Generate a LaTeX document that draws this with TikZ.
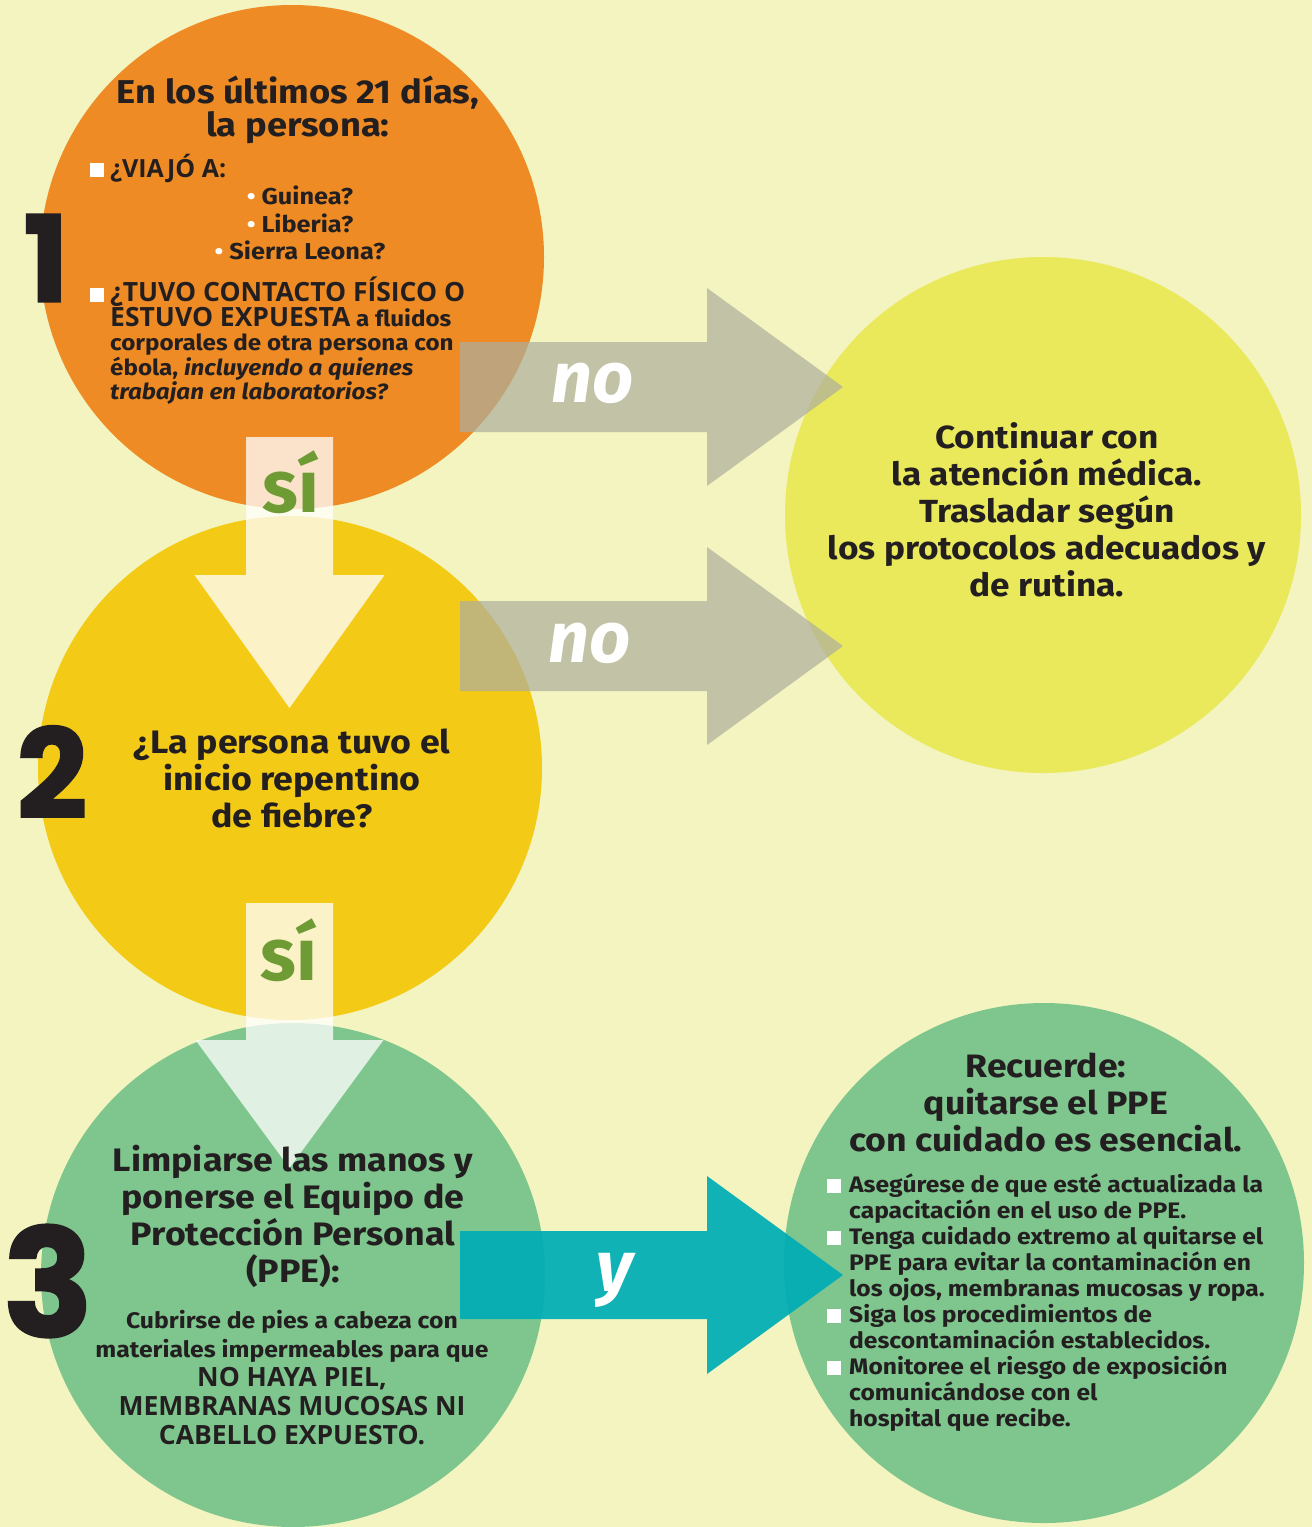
\documentclass[tikz,border=0pt]{standalone}
\usepackage{fontspec}
\setmainfont{Fira Sans}[FakeStretch=1.1]
\newfontfamily\rotfont{Fira Sans}
\newfontfamily\caps{Open Sans}
\newfontfamily\numfont{Poppins}[BoldFeatures={FakeBold=1.5}]
\usetikzlibrary{arrows.meta,calc}
\definecolor{fondo}{HTML}{F3F4BF}
\definecolor{naranja}{HTML}{EE8B24}
\definecolor{amarillo}{HTML}{F3CB16}
\definecolor{limon}{HTML}{E9E95B}
\definecolor{verde}{HTML}{7FC68E}
\definecolor{turquesa}{HTML}{00ADB5}
\definecolor{gris}{HTML}{AEAF9D}
\definecolor{oscuro}{HTML}{231F20}
\definecolor{verdesi}{HTML}{6E9B34}
\def\circuno{(292,257) circle (252)}
\def\circdos{(290,768) circle (252)}
\def\circtres{(293,1275) circle (252)}
\def\circno{(1043,515) circle (258)}
\def\circrec{(1044,1263) circle (260)}
\def\cuad{\textcolor{white}{\rule{14pt}{14pt}}}
\def\punto{\textcolor{white}{•}}

\begin{document}
\begin{tikzpicture}[x=1pt,y=-1pt,
  txt/.style={text=oscuro,inner sep=0pt},
  flechagris/.style={draw=gris,line width=90pt,-{Triangle[length=136pt,width=198pt,line width=0pt]}},
  flechacrema/.style={draw=white,line width=87pt,-{Triangle[length=133pt,width=190pt,line width=0pt]}},
  flechay/.style={draw=turquesa,line width=88pt,-{Triangle[length=136pt,width=198pt,line width=0pt]}},
  rotulo/.style={text=white,inner sep=0pt,font=\rotfont\bfseries\itshape\fontsize{72}{72}\selectfont}]
\useasboundingbox (0,0) rectangle (1312,1527);
\fill[fondo] (0,0) rectangle (1312,1527);
     \fill[naranja] \circuno;
     \fill[amarillo] \circdos;
     \fill[verde] \circtres;
     \fill[limon] \circno;
     \fill[verde] \circrec;
\foreach \n/\x/\y/\tam in {1/46/258/120,2/52/772/124,3/48/1281/150}
  \node[txt,font=\numfont\bfseries\fontsize{\tam}{\tam}\selectfont] (num\n) at (\x,\y) {\n};
\coordinate (a1) at (460,387); \coordinate (b1) at (843,387);
\coordinate (a2) at (460,646); \coordinate (b2) at (843,646);
\coordinate (a3) at (289.5,437); \coordinate (b3) at (289.5,708);
\coordinate (a4) at (289.5,903); \coordinate (b4) at (289.5,1168);
\coordinate (a5) at (460,1275); \coordinate (b5) at (843,1275);
\begin{scope}[transparency group,opacity=.72] \draw[flechagris] (a1) -- (b1); \end{scope}
\begin{scope}[transparency group,opacity=.72] \draw[flechagris] (a2) -- (b2); \end{scope}
\begin{scope}[transparency group,opacity=.76] \draw[flechacrema] (a3) -- (b3); \end{scope}
\begin{scope}[transparency group,opacity=.76] \draw[flechacrema,-{Triangle[length=128pt,width=188pt,line width=0pt]}] (a4) -- (b4); \end{scope}
\begin{scope}[transparency group,opacity=.93] \draw[flechay] (a5) -- (b5); \end{scope}
\node[rotulo] (no1) at (593,383) {no};
\node[rotulo] (no2) at (590,643) {no};
\node[rotulo] (y) at (615,1280) {y};
\node[txt,text=verdesi,font=\rotfont\bfseries\fontsize{74}{74}\selectfont] (si1) at (291,482) {sí};
\node[txt,text=verdesi,font=\rotfont\bfseries\fontsize{74}{74}\selectfont] (si2) at (289,950) {sí};
\node[txt,align=center,font=\bfseries\fontsize{33}{33}\selectfont] (titulo) at (298,110) {En los últimos 21 días,\\la persona:};
\node[txt,anchor=west,font=\caps\bfseries\fontsize{25}{25}\selectfont] (viajo) at (90,168) {\cuad\hspace{6pt}¿VIAJÓ A:};
\node[txt,align=center,font=\bfseries\fontsize{23}{27.5}\selectfont] (paises) at (300,223) {\punto\ Guinea?\\\punto\ Liberia?\\\punto\ Sierra Leona?};
\node[txt,anchor=west,align=left,font=\bfseries\fontsize{22}{24.5}\selectfont] (contacto) at (90,341) {%
  \cuad\hspace{6pt}{\caps\fontsize{26.5}{24.5}\selectfont ¿TUVO CONTACTO FÍSICO O}\\
  \hspace*{20pt}{\caps\fontsize{26.5}{24.5}\selectfont ESTUVO EXPUESTA} a fluidos\\
  \hspace*{20pt}corporales de otra persona con\\
  \hspace*{20pt}ébola, \textit{incluyendo a quienes}\\
  \hspace*{20pt}\textit{trabajan en laboratorios?}};
\node[txt,align=center,font=\bfseries\fontsize{32.5}{37}\selectfont] (fiebre) at (292,778) {¿La persona tuvo el\\inicio repentino\\de fiebre?};
\node[txt,align=center,font=\bfseries\fontsize{32}{37}\selectfont] (continuar) at (1047,510) {Continuar con\\la atención médica.\\Trasladar según\\los protocolos adecuados y\\de rutina.};
\node[txt,align=center,font=\bfseries\fontsize{32.5}{37}\selectfont] (limpiarse) at (293,1216) {Limpiarse las manos y\\ponerse el Equipo de\\Protección Personal\\(PPE):};
\node[txt,align=center,font=\bfseries\fontsize{22.5}{29}\selectfont] (cubrirse) at (292,1378) {Cubrirse de pies a cabeza con\\materiales impermeables para que\\
  {\caps\fontsize{26.5}{29}\selectfont NO HAYA PIEL,}\\{\caps\fontsize{26.5}{29}\selectfont MEMBRANAS MUCOSAS NI}\\{\caps\fontsize{26.5}{29}\selectfont CABELLO EXPUESTO.}};
\node[txt,align=center,font=\bfseries\fontsize{32.4}{37}\selectfont] (recuerde) at (1046,1102) {Recuerde:\\quitarse el PPE\\con cuidado es esencial.};
\node[txt,anchor=west,align=left,font=\bfseries\fontsize{22.4}{26}\selectfont] (consejos) at (827,1303) {%
  \cuad\hspace{8pt}Asegúrese de que esté actualizada la\\
  \hspace*{22pt}capacitación en el uso de PPE.\\
  \cuad\hspace{8pt}Tenga cuidado extremo al quitarse el\\
  \hspace*{22pt}PPE para evitar la contaminación en\\
  \hspace*{22pt}los ojos, membranas mucosas y ropa.\\
  \cuad\hspace{8pt}Siga los procedimientos de\\
  \hspace*{22pt}descontaminación establecidos.\\
  \cuad\hspace{8pt}Monitoree el riesgo de exposición\\
  \hspace*{22pt}comunicándose con el\\
  \hspace*{22pt}hospital que recibe.};
\end{tikzpicture}
\end{document}
